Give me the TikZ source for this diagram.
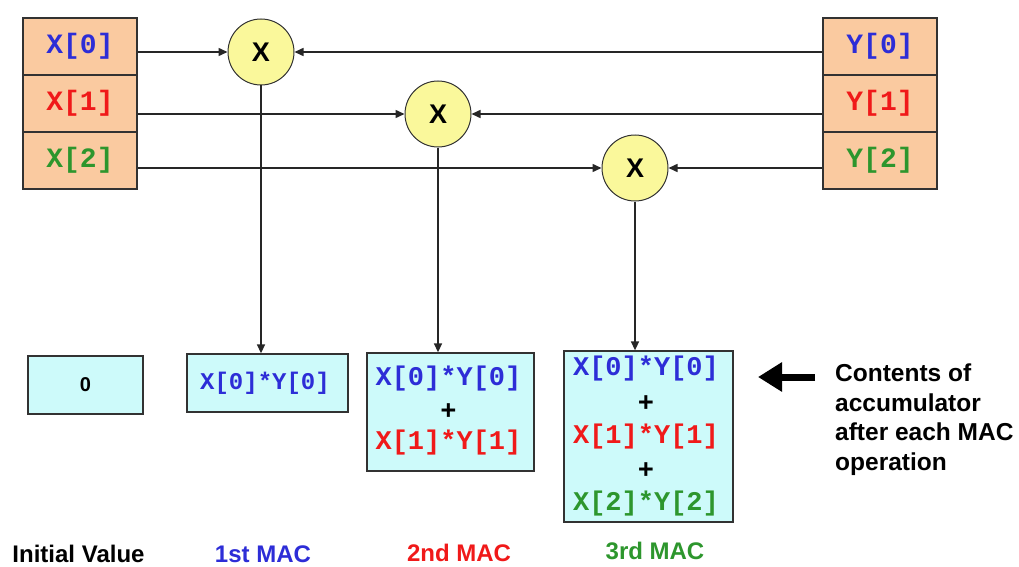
\documentclass[tikz,border=0pt]{standalone}
\usepackage{fontspec}
\setmainfont{Liberation Sans}
\newfontfamily\monofont{Liberation Mono}
\usetikzlibrary{arrows.meta}

\definecolor{cblue}{RGB}{45,45,215}
\definecolor{cred}{RGB}{240,25,25}
\definecolor{cgreen}{RGB}{45,150,45}
\definecolor{peach}{RGB}{250,202,160}
\definecolor{pale}{RGB}{205,250,250}
\definecolor{lemon}{RGB}{250,248,155}
\definecolor{edge}{RGB}{50,50,50}

\tikzset{
  cell/.style={draw=edge, line width=1.3pt, fill=peach, minimum width=114pt,
    minimum height=57pt, inner sep=0pt, font=\monofont\bfseries\fontsize{28}{30}\selectfont},
  mul/.style={circle, draw=edge, line width=1pt, fill=lemon, minimum size=66pt,
    inner sep=0pt, font=\bfseries\fontsize{27}{29}\selectfont},
  acc/.style={draw=edge, line width=1.3pt, fill=pale, inner sep=0pt},
  term/.style={inner sep=0pt, font=\monofont\bfseries\fontsize{27}{30}\selectfont},
  small term/.style={inner sep=0pt, font=\monofont\bfseries\fontsize{24}{28}\selectfont},
  caption/.style={inner sep=0pt, anchor=base, font=\bfseries\fontsize{24}{28}\selectfont},
  wire/.style={line width=1.5pt, draw=black!85, -{Triangle[length=9pt,width=8pt]}}
}

\begin{document}
\begin{tikzpicture}[x=1pt,y=-1pt]
\useasboundingbox (0,0) rectangle (1019,567);

% input registers
\node[cell, text=cblue] (X0) at (80,46.5)  {X[0]};
\node[cell, text=cred]  (X1) at (80,103.5) {X[1]};
\node[cell, text=cgreen](X2) at (80,160.5) {X[2]};
\node[cell, text=cblue] (Y0) at (880,46.5)  {Y[0]};
\node[cell, text=cred]  (Y1) at (880,103.5) {Y[1]};
\node[cell, text=cgreen](Y2) at (880,160.5) {Y[2]};

% multipliers
\node[mul] (m1) at (261,52)  {X};
\node[mul] (m2) at (438,114) {X};
\node[mul] (m3) at (635,168) {X};

% accumulator snapshots
\node[acc, minimum width=115pt, minimum height=58pt] (a0) at (85.5,385) {};
\node[acc, minimum width=161pt, minimum height=58pt] (a1) at (267.5,383) {};
\node[acc, minimum width=167pt, minimum height=118pt] (a2) at (450.5,412) {};
\node[acc, minimum width=169pt, minimum height=171pt] (a3) at (648.5,436.5) {};

% wires into the multipliers
\draw[wire] (X0.east |- m1) -- (m1);
\draw[wire] (X1.east |- m2) -- (m2);
\draw[wire] (X2.east |- m3) -- (m3);
\draw[wire] (Y0.west |- m1) -- (m1);
\draw[wire] (Y1.west |- m2) -- (m2);
\draw[wire] (Y2.west |- m3) -- (m3);

% products down to the accumulator
\draw[wire] (m1.south) -- (m1.south |- a1.north);
\draw[wire] (m2.south) -- (m2.south |- a2.north);
\draw[wire] (m3.south) -- (m3.south |- a3.north);

% accumulator contents
\node[inner sep=0pt, font=\bfseries\fontsize{20}{24}\selectfont] (z) at (a0) {0};
\node[small term, text=cblue] (p10) at (265,383) {X[0]*Y[0]};

\node[term, text=cblue] (p20) at (448.5,379) {X[0]*Y[0]};
\node[term] (s21) at (448.5,412) {+};
\node[term, text=cred]  (p21) at (448.5,443) {X[1]*Y[1]};

\node[term, text=cblue]  (p30) at (646,369) {X[0]*Y[0]};
\node[term] (s31) at (646,403.5) {+};
\node[term, text=cred]   (p31) at (646,437) {X[1]*Y[1]};
\node[term] (s32) at (646,471) {+};
\node[term, text=cgreen] (p32) at (646,504) {X[2]*Y[2]};

% captions
\node[caption] (c0) at (78.5,562) {Initial Value};
\node[caption, text=cblue]  (c1) at (263,562) {1st MAC};
\node[caption, text=cred]   (c2) at (459,561) {2nd MAC};
\node[caption, text=cgreen] (c3) at (655,559) {3rd MAC};

% note with its pointer
\coordinate (ptrtail) at (815,377);
\coordinate (ptrhead) at (758,377);
\draw[line width=7pt, -{Triangle[length=24pt,width=28pt]}] (ptrtail) -- (ptrhead);
\node[inner sep=0pt, anchor=north west, align=left,
      font=\bfseries\fontsize{24.5}{29.5}\selectfont] (note) at (835,364)
  {Contents of\\accumulator\\after each MAC\\operation};
\end{tikzpicture}
\end{document}
